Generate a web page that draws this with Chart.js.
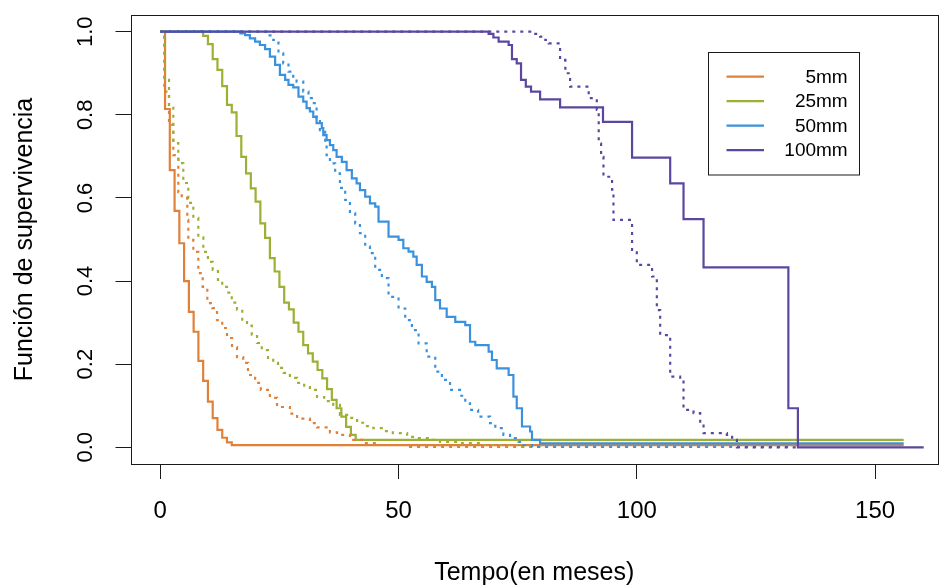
<!DOCTYPE html>
<html>
<head>
<meta charset="utf-8">
<script src="https://cdn.jsdelivr.net/npm/chart.js@4.4.0/dist/chart.umd.min.js"></script>
<style>
  html, body { margin: 0; padding: 0; background: #ffffff; }
  #c { display: block; }
</style>
</head>
<body>
<canvas id="c" width="939" height="585"></canvas>
<script>
// Series labels and colours
const seriesNames  = ['5mm', '25mm', '50mm', '100mm'];
const seriesColors = ['#E0813A', '#9CB033', '#3B91DC', '#5B479F'];

// Axis ticks and titles
const xTicks = [0, 50, 100, 150];
const yTicks = [0, 0.2, 0.4, 0.6, 0.8, 1.0];
const yTickLabels = ['0.0', '0.2', '0.4', '0.6', '0.8', '1.0'];
const xTitle = 'Tempo(en meses)';
const yTitle = 'Función de supervivencia';

// Kaplan-Meier curves (solid): event times (months) and survival after each event
const time5  = [1, 2, 3, 4, 5, 6, 7, 8, 9, 10, 11, 12, 13, 14, 15, 156];
const surv5  = [0.814, 0.667, 0.569, 0.491, 0.400, 0.326, 0.278, 0.208, 0.160, 0.110, 0.070, 0.042, 0.023, 0.012, 0.005, 0.005];

const time25 = [9, 10, 11, 12, 13, 14, 15, 16, 17, 18, 19, 20, 21, 22, 23, 24, 25, 26, 27, 28, 29, 30, 31, 32, 33, 34, 35, 36, 37, 38, 39, 40, 41, 156];
const surv25 = [0.990, 0.970, 0.934, 0.908, 0.869, 0.824, 0.806, 0.749, 0.699, 0.659, 0.623, 0.591, 0.539, 0.504, 0.455, 0.423, 0.386, 0.348, 0.332, 0.300, 0.278, 0.246, 0.226, 0.206, 0.186, 0.166, 0.140, 0.114, 0.094, 0.074, 0.049, 0.030, 0.018, 0.018];

const time50 = [16.8, 17.8, 18.8, 19.9, 20.9, 22, 23, 24.1, 25.1, 26.2, 26.9, 27.9, 29, 30, 30.7, 31.4, 32.1, 32.8, 33.9, 34.2, 34.9, 35.6, 36.3, 37, 38.1, 39.1, 40.2, 41.2, 41.9, 43, 44, 45.1, 45.8, 47.9, 50, 51, 52.1, 53.1, 53.8, 54.9, 55.9, 57, 57.7, 58.7, 60.1, 61.9, 64, 65, 66.1, 68.9, 69.6, 70.6, 73.1, 74.1, 74.8, 75.9, 77.6, 78, 79.7, 156];
const surv50 = [0.996, 0.992, 0.984, 0.976, 0.968, 0.958, 0.940, 0.920, 0.896, 0.884, 0.872, 0.866, 0.844, 0.832, 0.816, 0.808, 0.795, 0.780, 0.768, 0.751, 0.739, 0.727, 0.715, 0.699, 0.687, 0.667, 0.647, 0.635, 0.619, 0.603, 0.587, 0.579, 0.543, 0.507, 0.499, 0.479, 0.471, 0.459, 0.439, 0.411, 0.398, 0.386, 0.354, 0.334, 0.314, 0.302, 0.294, 0.254, 0.246, 0.230, 0.210, 0.190, 0.174, 0.122, 0.094, 0.050, 0.038, 0.018, 0.0096, 0.0096];

const time100 = [68.9, 69.9, 71, 73.1, 73.8, 74.8, 75.7, 76.7, 77.8, 79.7, 83.9, 92.9, 99, 107, 109.8, 114, 131.8, 133.8, 160.2];
const surv100 = [0.995, 0.986, 0.976, 0.968, 0.934, 0.924, 0.884, 0.868, 0.856, 0.837, 0.818, 0.783, 0.697, 0.635, 0.549, 0.433, 0.094, 0, 0];

// Fitted curves (dotted)
const time5f = [0.84, 1.83, 2.73, 3.78, 4.5, 5.67, 5.88, 6.93, 7.98, 8.9, 9.87, 10.9, 11.9, 13, 14, 15.05, 16.1, 17.4, 18.4, 19.9, 21.1, 23, 24.5, 27.2, 28.7, 31.4, 32.9, 35.6, 37.1, 39.8, 42.6, 46.1, 51.8, 80];
const surv5f = [0.856, 0.776, 0.703, 0.614, 0.600, 0.547, 0.499, 0.470, 0.419, 0.386, 0.347, 0.335, 0.306, 0.287, 0.263, 0.241, 0.217, 0.203, 0.174, 0.155, 0.138, 0.119, 0.097, 0.081, 0.069, 0.058, 0.048, 0.036, 0.030, 0.018, 0.010, 0.0055, 0.001, 0.001];

const time25f = [0.84, 1.83, 2.73, 3.78, 4.83, 5.88, 6.93, 7.98, 9.03, 10, 11, 12.1, 13, 14, 15, 16.1, 17.2, 18.2, 19.2, 20.3, 21.3, 22.6, 23.7, 24.7, 25.9, 27.2, 28.7, 30.2, 31.4, 32.9, 34.4, 36.3, 37.7, 39.2, 41.3, 43, 44.7, 46.7, 48.8, 51.8, 53.9, 56.6, 58.7, 62.9, 67.7, 75.5, 80];
const surv25f = [0.884, 0.820, 0.732, 0.684, 0.636, 0.588, 0.552, 0.505, 0.470, 0.446, 0.427, 0.403, 0.386, 0.372, 0.348, 0.331, 0.307, 0.293, 0.271, 0.251, 0.234, 0.215, 0.203, 0.191, 0.179, 0.167, 0.155, 0.145, 0.138, 0.121, 0.111, 0.102, 0.078, 0.071, 0.059, 0.051, 0.046, 0.039, 0.034, 0.025, 0.022, 0.018, 0.013, 0.010, 0.0055, 0.002, 0.002];

const time50f = [22.2, 23.7, 24.8, 25.8, 26.9, 27.9, 28.6, 30, 31.1, 31.8, 32.8, 33.5, 34.6, 34.9, 35.6, 36.7, 37.7, 38.8, 39.8, 40.9, 41.9, 43, 44, 45.1, 46.5, 47.9, 50, 51.4, 52.8, 54.2, 55.9, 57.7, 59.1, 60.8, 62.9, 64, 65, 66.7, 69.2, 70.3, 72, 73.4, 75.2, 76.2, 78, 132];
const surv50f = [0.991, 0.980, 0.948, 0.924, 0.904, 0.892, 0.880, 0.856, 0.840, 0.828, 0.792, 0.763, 0.735, 0.703, 0.683, 0.659, 0.624, 0.595, 0.563, 0.539, 0.515, 0.483, 0.467, 0.427, 0.407, 0.362, 0.334, 0.306, 0.282, 0.250, 0.218, 0.182, 0.162, 0.138, 0.124, 0.106, 0.090, 0.074, 0.058, 0.046, 0.030, 0.022, 0.013, 0.0055, 0.001, 0.001];

const time100f = [78, 79.7, 80.8, 81.5, 83.9, 85, 86, 89.9, 91.6, 92, 92.5, 93, 94.8, 95.1, 99, 100, 102.8, 103.2, 104.2, 104.9, 106.7, 107, 109.1, 109.8, 111.9, 113.3, 114, 118.9, 120, 121, 133.5];
const surv100f = [0.995, 0.988, 0.980, 0.972, 0.932, 0.900, 0.868, 0.840, 0.812, 0.731, 0.699, 0.651, 0.620, 0.547, 0.475, 0.439, 0.435, 0.411, 0.330, 0.270, 0.266, 0.170, 0.162, 0.090, 0.082, 0.058, 0.034, 0.030, 0.018, 0, 0];

// Step curves start at S(0) = 1
function stepPoints(times, surv) {
  const pts = [{ x: 0, y: 1 }];
  times.forEach((t, i) => pts.push({ x: t, y: surv[i] }));
  return pts;
}

const solid = [[time5, surv5], [time25, surv25], [time50, surv50], [time100, surv100]];
const dotted = [[time5f, surv5f], [time25f, surv25f], [time50f, surv50f], [time100f, surv100f]];

const LINE_W = 2.2;
const datasets = [];
// Later datasets in this list are painted first; fitted curves end up on top,
// and within each group the larger sizes cover the smaller ones.
solid.forEach(([t, s], i) => datasets.push({
  label: seriesNames[i],
  data: stepPoints(t, s),
  borderColor: seriesColors[i],
  borderWidth: LINE_W,
  stepped: true,
  fill: false,
  pointRadius: 0,
  order: 10 - i
}));
dotted.forEach(([t, s], i) => datasets.push({
  label: seriesNames[i] + ' (ajuste)',
  data: stepPoints(t, s),
  borderColor: seriesColors[i],
  borderWidth: LINE_W,
  borderDash: [3, 5],
  stepped: true,
  fill: false,
  pointRadius: 0,
  order: 5 - i
}));

const FONT = '"Liberation Sans", Arial, Helvetica, sans-serif';

// Box, rotated y tick labels, axis titles and legend, R base-graphics style
const decorations = {
  id: 'decorations',
  afterDraw(chart) {
    const ctx = chart.ctx;
    const a = chart.chartArea;
    const ys = chart.scales.y;
    ctx.save();
    // plot box
    ctx.strokeStyle = '#1a1a1a';
    ctx.lineWidth = 1;
    ctx.strokeRect(Math.round(a.left) + 0.5, Math.round(a.top) + 0.5,
                   Math.round(a.right - a.left) - 1, Math.round(a.bottom - a.top));

    // y tick labels, rotated (read upward)
    ctx.fillStyle = '#000';
    ctx.font = '22px ' + FONT;
    ctx.textAlign = 'center';
    ctx.textBaseline = 'alphabetic';
    yTicks.forEach((v, i) => {
      ctx.save();
      ctx.translate(92, ys.getPixelForValue(v));
      ctx.rotate(-Math.PI / 2);
      ctx.fillText(yTickLabels[i], 0, 0);
      ctx.restore();
    });

    // y title
    ctx.font = '25px ' + FONT;
    ctx.save();
    ctx.translate(31.5, (a.top + a.bottom) / 2);
    ctx.rotate(-Math.PI / 2);
    ctx.fillText(yTitle, 0, 0);
    ctx.restore();

    // x title
    ctx.fillText(xTitle, (a.left + a.right) / 2, 580);

    // legend
    const lx = 708.5, ly = 52.5, lw = 151, lh = 122.5;
    ctx.strokeStyle = '#1a1a1a';
    ctx.lineWidth = 1;
    ctx.strokeRect(lx, ly, lw, lh);
    ctx.font = '19px ' + FONT;
    ctx.textAlign = 'right';
    ctx.textBaseline = 'middle';
    seriesNames.forEach((name, i) => {
      const y = 76.7 + i * 24.45;
      ctx.strokeStyle = seriesColors[i];
      ctx.lineWidth = LINE_W;
      ctx.beginPath();
      ctx.moveTo(726.5, y);
      ctx.lineTo(764, y);
      ctx.stroke();
      ctx.fillStyle = '#000';
      ctx.fillText(name, 847.7, y + 1);
    });
    ctx.restore();
  }
};

new Chart(document.getElementById('c'), {
  type: 'line',
  data: { datasets },
  options: {
    responsive: false,
    animation: false,
    devicePixelRatio: 1,
    layout: { padding: { top: 15, right: 1, left: 0, bottom: 0 } },
    plugins: { legend: { display: false }, tooltip: { enabled: false } },
    elements: { line: { tension: 0 }, point: { radius: 0 } },
    scales: {
      x: {
        type: 'linear',
        min: -6.25,
        max: 163.2,
        afterBuildTicks: s => { s.ticks = xTicks.map(v => ({ value: v })); },
        afterFit: s => { s.height = 121; },
        grid: { drawOnChartArea: false, drawTicks: true, tickLength: 15, color: '#1a1a1a', lineWidth: 1 },
        border: { display: false },
        ticks: { color: '#000', font: { family: FONT, size: 24 }, padding: 18, maxRotation: 0, autoSkip: false }
      },
      y: {
        type: 'linear',
        min: -0.0402,
        max: 1.0402,
        afterBuildTicks: s => { s.ticks = yTicks.map(v => ({ value: v })); },
        afterFit: s => { s.width = 130.5; },
        grid: { drawOnChartArea: false, drawTicks: true, tickLength: 15, color: '#1a1a1a', lineWidth: 1 },
        border: { display: false },
        ticks: { display: false }
      }
    }
  },
  plugins: [decorations]
});
</script>
</body>
</html>
